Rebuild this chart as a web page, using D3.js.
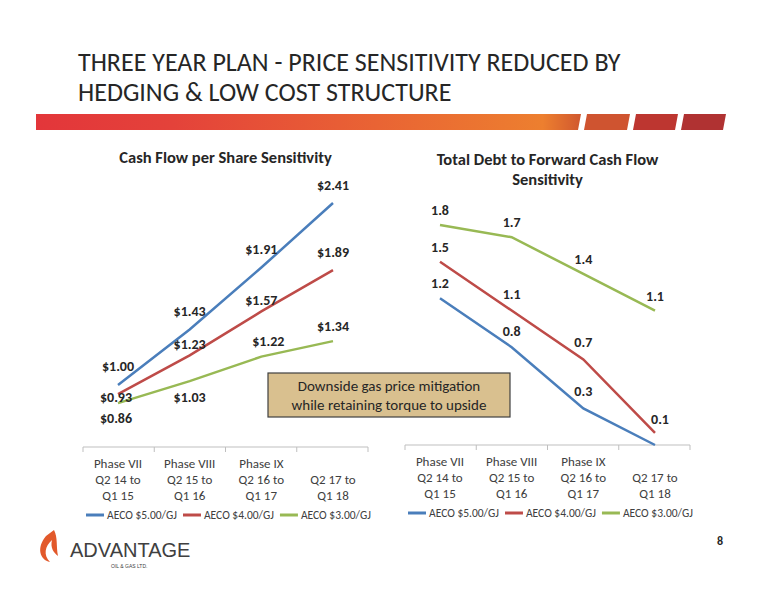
<!DOCTYPE html>
<html><head><meta charset="utf-8">
<script src="https://d3js.org/d3.v7.min.js"></script>
<style>body{margin:0;background:#fff}svg{font-family:Calibri,Carlito,"Open Sans",sans-serif}</style>
</head><body><svg id="c" width="776" height="600"></svg>
<script>
const categories=[["Phase VII","Q2 14 to","Q1 15"],["Phase VIII","Q2 15 to","Q1 16"],["Phase IX","Q2 16 to","Q1 17"],["","Q2 17 to","Q1 18"]];
const seriesNames=["AECO $5.00/GJ","AECO $4.00/GJ","AECO $3.00/GJ"];
const colors=["#4a7ebb","#be4b48","#98b954"];
const cfps5=[1.00,1.43,1.91,2.41];
const cfps4=[0.93,1.23,1.57,1.89];
const cfps3=[0.86,1.03,1.22,1.34];
const debt5=[1.2,0.8,0.3,0.0];
const debt4=[1.5,1.1,0.7,0.1];
const debt3=[1.8,1.7,1.4,1.1];
const svg=d3.select("#c");
svg.append("text").attr("x",78).attr("y",71).attr("font-size",26).attr("fill","#262626").text("THREE YEAR PLAN - PRICE SENSITIVITY REDUCED BY");
svg.append("text").attr("x",78).attr("y",101).attr("font-size",26).attr("fill","#262626").text("HEDGING & LOW COST STRUCTURE");
const g=svg.append("defs").append("linearGradient").attr("id","gr");
g.append("stop").attr("offset","0").attr("stop-color","#e3363a");
g.append("stop").attr("offset","0.25").attr("stop-color","#e4423a");
g.append("stop").attr("offset","0.93").attr("stop-color","#ed7f2f");
g.append("stop").attr("offset","1").attr("stop-color","#d0582f");
svg.append("polygon").attr("points","36,114 581,114 578,130 36,130").attr("fill","url(#gr)");
[[584,630,"#cf5430"],[633,678,"#bd3630"],[681,726,"#b03232"]].forEach(([a,b,c])=>svg.append("polygon").attr("points",`${a+3},114 ${b},114 ${b-3},130 ${a},130`).attr("fill",c));

function chart(x0,x1,yTop,yAxis,dmin,dmax,data,fmt,title,titleY,labelOff,skip){
  const x=d3.scalePoint().domain(d3.range(4)).range([x0+35,x1-35]);
  const y=d3.scaleLinear().domain([dmin,dmax]).range([yAxis,yTop]);
  svg.append("line").attr("x1",x0).attr("x2",x1).attr("y1",yAxis).attr("y2",yAxis).attr("stroke","#bfbfbf");
  const step=(x1-x0)/4;
  for(let i=0;i<=4;i++)svg.append("line").attr("x1",x0+i*step).attr("x2",x0+i*step).attr("y1",yAxis).attr("y2",yAxis+5).attr("stroke","#bfbfbf");
  categories.forEach((c,i)=>c.forEach((t,j)=>svg.append("text").attr("x",x(i)).attr("y",yAxis+21+j*16).attr("text-anchor","middle").attr("font-size",13).attr("fill","#404040").text(t)));
  const line=d3.line().x((d,i)=>x(i)).y(d=>y(d));
  data.forEach((s,k)=>svg.append("path").attr("d",line(s)).attr("fill","none").attr("stroke",colors[k]).attr("stroke-width",2.5));
  data.forEach((s,k)=>s.forEach((v,i)=>{ if(skip&&skip(k,i))return;
    const o=labelOff[k][i];
    svg.append("text").attr("x",x(i)+o[0]).attr("y",y(v)+o[1]).attr("text-anchor","middle").attr("font-size",14).attr("font-weight","bold").attr("fill","#262626").text(fmt(v));}));
  title.forEach((t,j)=>svg.append("text").attr("x",(x0+x1)/2).attr("y",titleY+j*20).attr("text-anchor","middle").attr("font-size",16.5).attr("font-weight","bold").attr("fill","#262626").text(t));
  let lx=x0+3;
  seriesNames.forEach((n,k)=>{
    svg.append("line").attr("x1",lx).attr("x2",lx+18).attr("y1",yAxis+68).attr("y2",yAxis+68).attr("stroke",colors[k]).attr("stroke-width",3);
    const t=svg.append("text").attr("x",lx+21).attr("y",yAxis+72).attr("font-size",11.5).attr("fill","#404040").text(n);
    lx+=t.node().getComputedTextLength()+27;
  });
}
const money=v=>"$"+v.toFixed(2);
chart(83,368,203,447,0.52,2.41,[cfps5,cfps4,cfps3],money,["Cash Flow per Share Sensitivity"],163,
 [[[0,-14],[0,-14],[0,-14],[0,-13]],[[-2,8],[0,-6],[0,-6],[0,-13]],[[-2,20],[0,21],[7,-11],[0,-10]]],null);
chart(405,690,225,445,0,1.8,[debt5,debt4,debt3],v=>v.toFixed(1),["Total Debt to Forward Cash Flow","Sensitivity"],165,
 [[[0,-10],[0,-11],[0,-12],[0,0]],[[0,-10],[0,-12],[0,-12],[5,-9]],[[0,-10],[0,-10],[0,-10],[0,-10]]],(k,i)=>k===0&&i===3);
svg.append("rect").attr("x",268).attr("y",373).attr("width",242).attr("height",44).attr("fill","#d9c08f").attr("stroke","#404040").attr("stroke-width",1.2);
svg.append("text").attr("x",389).attr("y",391).attr("text-anchor","middle").attr("font-size",15).attr("fill","#262626").text("Downside gas price mitigation");
svg.append("text").attr("x",389).attr("y",410).attr("text-anchor","middle").attr("font-size",15).attr("fill","#262626").text("while retaining torque to upside");
svg.append("text").attr("x",717).attr("y",545).attr("font-size",12).attr("font-weight","bold").attr("fill","#262626").text("8");
svg.append("path").attr("d","M46,536 C36,548 40,560 50,562 C43,555 45,546 52,540 C50,548 54,553 58,556 C56,546 58,538 54,530 Z").attr("fill","#e2592b");
svg.append("text").attr("x",70).attr("y",557).attr("font-size",20).attr("font-family","Arial,Liberation Sans,sans-serif").attr("fill","#404040").text("ADVANTAGE");
svg.append("text").attr("x",111).attr("y",568).attr("font-size",5).attr("font-family","Arial,Liberation Sans,sans-serif").attr("fill","#404040").text("OIL & GAS LTD.");
</script></body></html>
